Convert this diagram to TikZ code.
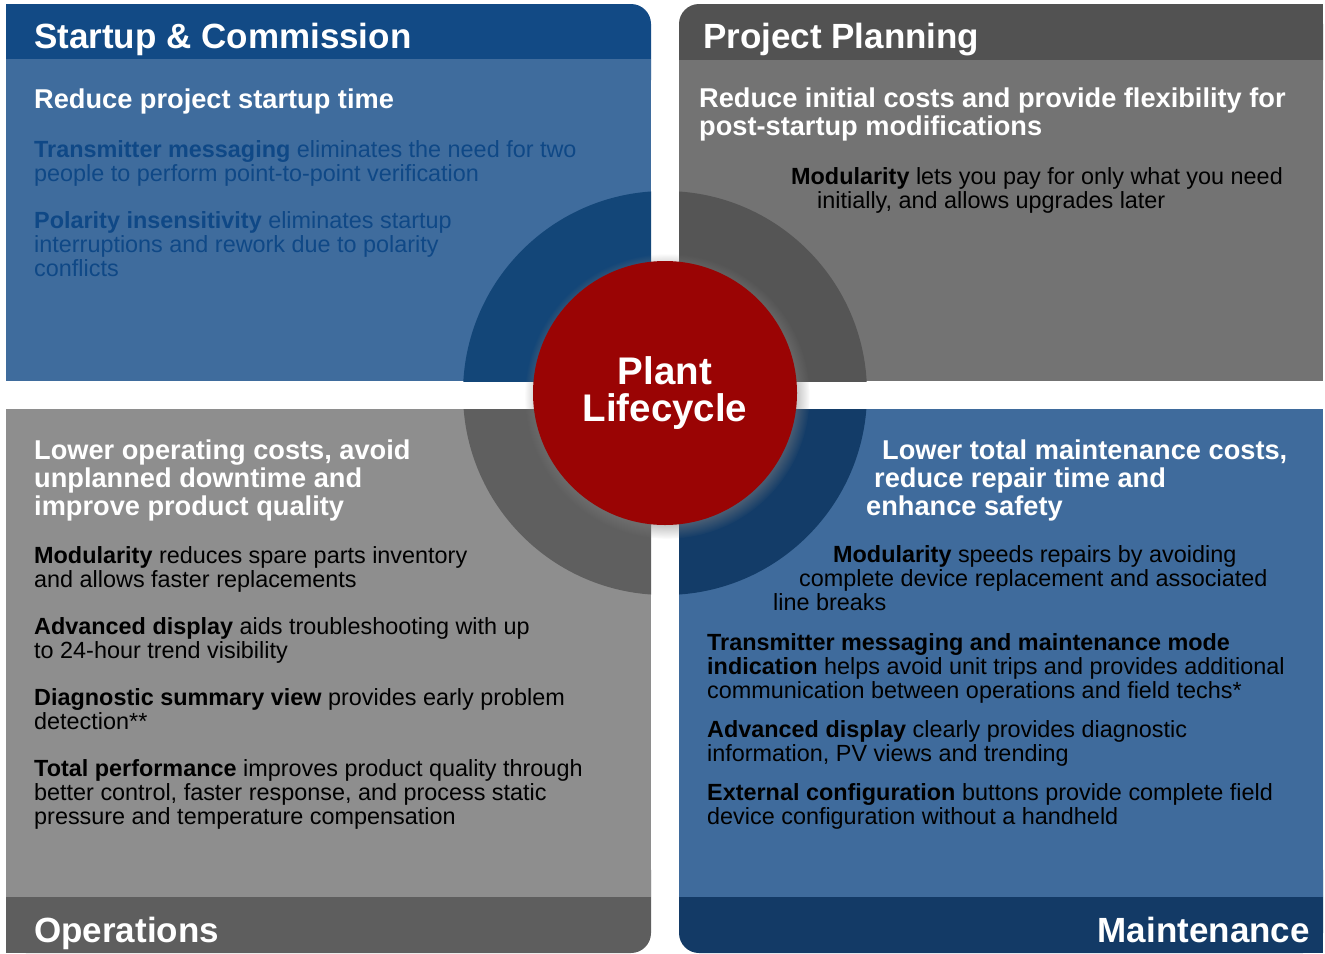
\documentclass[tikz,border=0pt]{standalone}
\usepackage{fontspec}
\setmainfont{Liberation Sans}
\usepackage{xcolor}
\usetikzlibrary{shadows}

\definecolor{scHead}{HTML}{124A85}
\definecolor{scBody}{HTML}{3F6C9D}
\definecolor{scArc}{HTML}{134678}
\definecolor{scText}{HTML}{0F4886}
\definecolor{ppHead}{HTML}{525252}
\definecolor{ppBody}{HTML}{737373}
\definecolor{ppArc}{HTML}{555555}
\definecolor{opBody}{HTML}{8E8E8E}
\definecolor{opArc}{HTML}{5F5F5F}
\definecolor{opFoot}{HTML}{5E5E5E}
\definecolor{mtBody}{HTML}{3F6B9C}
\definecolor{mtArc}{HTML}{133C68}
\definecolor{mtFoot}{HTML}{133A66}
\definecolor{lifeRed}{HTML}{9A0404}

\begin{document}
\begin{tikzpicture}[x=1pt, y=-1pt]
	\tikzstyle{title}=[inner sep=0pt, anchor=base west, text=white, font=\fontsize{35}{36}\selectfont\bfseries]
	\tikzstyle{aim}=[inner sep=0pt, anchor=base west, align=left, text=white, font=\fontsize{27.2}{28}\selectfont\bfseries]
	\tikzstyle{item}=[inner sep=0pt, anchor=base west, align=left, font=\fontsize{23.4}{24}\selectfont]

	\useasboundingbox (0,0) rectangle (1325,953);

	% Startup & Commission
	\fill[scHead, rounded corners=20pt] (6,4) rectangle (651,100);
	\fill[scHead] (6,4) rectangle (300,100);
	\fill[scBody] (6,59) rectangle (651,381);
	\begin{scope}
		\clip (6,59) rectangle (651,381);
		\fill[scArc] (665,393) circle (202);
	\end{scope}

	% Project Planning
	\fill[ppHead, rounded corners=20pt] (679,4) rectangle (1323,100);
	\fill[ppHead] (1000,4) rectangle (1323,100);
	\fill[ppBody] (679,60) rectangle (1323,381);
	\begin{scope}
		\clip (679,60) rectangle (1323,381);
		\fill[ppArc] (665,393) circle (202);
	\end{scope}

	% Operations
	\fill[opFoot, rounded corners=20pt] (6,850) rectangle (651,953);
	\fill[opFoot] (6,850) rectangle (300,953);
	\fill[opBody] (6,409) rectangle (651,897);
	\begin{scope}
		\clip (6,409) rectangle (651,897);
		\fill[opArc] (665,393) circle (202);
	\end{scope}

	% Maintenance
	\fill[mtFoot, rounded corners=20pt] (679,850) rectangle (1323,953);
	\fill[mtFoot] (1000,850) rectangle (1323,953);
	\fill[mtBody] (679,409) rectangle (1323,897);
	\begin{scope}
		\clip (679,409) rectangle (1323,897);
		\fill[mtArc] (665,393) circle (202);
	\end{scope}

	% texts (y is the baseline of the last line)
	\node[title] (scTitle) at (34,48) {Startup \& Commission};
	\node[aim] (scAim) at (34,108) {Reduce project startup time};
	\node[item, text=scText] (scMsg) at (34,181) {\textbf{Transmitter messaging} eliminates the need for two\\people to perform point-to-point verification};
	\node[item, text=scText] (scPol) at (34,276) {\textbf{Polarity insensitivity} eliminates startup\\interruptions and rework due to polarity\\conflicts};

	\node[title] (ppTitle) at (703,48) {Project Planning};
	\node[aim] (ppAim) at (699,135) {Reduce initial costs and provide flexibility for\\post-startup modifications};
	\node[item] (ppMod) at (791,208) {\textbf{Modularity} lets you pay for only what you need\\\hspace*{26pt}initially, and allows upgrades later};

	\node[aim] (opAim) at (34,515) {Lower operating costs, avoid\\unplanned downtime and\\improve product quality};
	\node[item] (opMod) at (34,587) {\textbf{Modularity} reduces spare parts inventory\\and allows faster replacements};
	\node[item] (opDisp) at (34,658) {\textbf{Advanced display} aids troubleshooting with up\\to 24-hour trend visibility};
	\node[item] (opDiag) at (34,729) {\textbf{Diagnostic summary view} provides early problem\\detection**};
	\node[item] (opPerf) at (34,824) {\textbf{Total performance} improves product quality through\\better control, faster response, and process static\\pressure and temperature compensation};
	\node[title] (opTitle) at (34,942) {Operations};

	\node[aim] (mtAim) at (866,515) {\hspace*{16pt}Lower total maintenance costs,\\\hspace*{8pt}reduce repair time and\\enhance safety};
	\node[item] (mtMod) at (773,610) {\hspace*{60pt}\textbf{Modularity} speeds repairs by avoiding\\\hspace*{26pt}complete device replacement and associated\\line breaks};
	\node[item] (mtMsg) at (707,698) {\textbf{Transmitter messaging and maintenance mode}\\\textbf{indication} helps avoid unit trips and provides additional\\communication between operations and field techs*};
	\node[item] (mtDisp) at (707,761) {\textbf{Advanced display} clearly provides diagnostic\\information, PV views and trending};
	\node[item] (mtCfg) at (707,824) {\textbf{External configuration} buttons provide complete field\\device configuration without a handheld};
	\node[title, anchor=base east] (mtTitle) at (1310,942) {Maintenance};

	% centre
	\node[circle, fill=lifeRed, minimum size=264pt, inner sep=0pt, text=white, align=center,
		circular drop shadow={shadow xshift=2pt, shadow yshift=-3pt, shadow scale=1.08, opacity=0.7},
		font=\fontsize{38.5}{37}\selectfont\bfseries] (life) at (665,393) {Plant\\Lifecycle};
\end{tikzpicture}
\end{document}
